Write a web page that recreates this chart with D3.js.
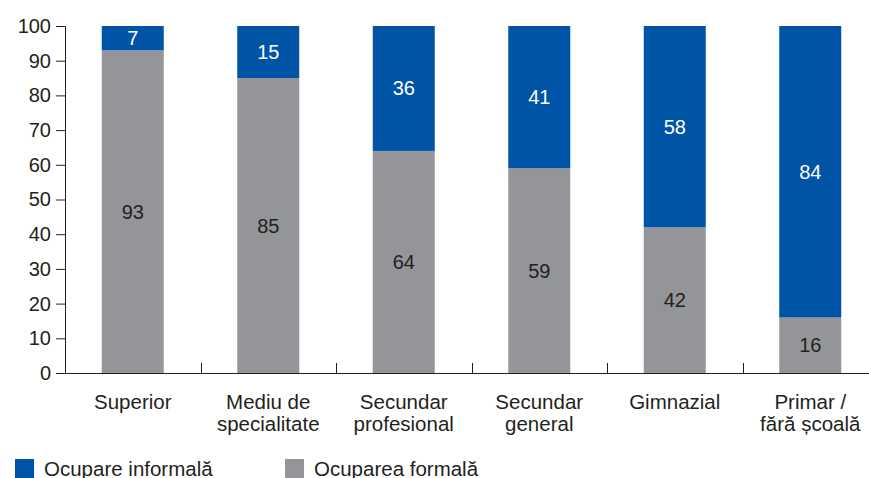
<!DOCTYPE html>
<html>
<head>
<meta charset="utf-8">
<script src="https://cdn.jsdelivr.net/npm/d3@7"></script>
<style>
  body { margin: 0; background: #fff; }
  text { font-family: "Liberation Sans", Arial, sans-serif; }
</style>
</head>
<body>
<svg id="chart"></svg>
<script>
// data
const categories = [["Superior"], ["Mediu de", "specialitate"], ["Secundar", "profesional"], ["Secundar", "general"], ["Gimnazial"], ["Primar /", "fără școală"]];
const formal = [93, 85, 64, 59, 42, 16];
const informal = [7, 15, 36, 41, 58, 84];
const yTicks = [0, 10, 20, 30, 40, 50, 60, 70, 80, 90, 100];
const seriesNames = ["Ocupare informală", "Ocuparea formală"];

const width = 869, height = 478;
const blue = "#0054a6", grey = "#939598", ink = "#231f20";

const svg = d3.select("#chart").attr("width", width).attr("height", height);

const x = d3.scaleBand().domain(d3.range(categories.length)).range([65, 878]);
const y = d3.scaleLinear().domain([0, 100]).range([373, 26]);
const barW = 62;

// y axis
const yAxis = d3.axisLeft(y).tickValues(yTicks).tickSize(9).tickPadding(5);
const gy = svg.append("g").attr("transform", "translate(65,0)").call(yAxis);
gy.select(".domain").attr("stroke", ink).attr("d", "M-9,26.5H0.5V373.5");
gy.selectAll(".tick line").attr("stroke", ink);
gy.selectAll(".tick text").attr("font-size", 20).attr("fill", ink);

// x axis line + category separators
svg.append("line").attr("x1", 65).attr("x2", width).attr("y1", 373.5).attr("y2", 373.5).attr("stroke", ink);
svg.selectAll(".sep").data(d3.range(1, categories.length)).join("line")
  .attr("x1", d => Math.round(x(d)) + 0.5).attr("x2", d => Math.round(x(d)) + 0.5)
  .attr("y1", 363).attr("y2", 373).attr("stroke", ink);

// bars
const g = svg.append("g");
categories.forEach((c, i) => {
  const cx = x(i) + x.bandwidth() / 2;
  g.append("rect").attr("x", cx - barW / 2).attr("width", barW)
    .attr("y", y(formal[i])).attr("height", y(0) - y(formal[i])).attr("fill", grey);
  g.append("rect").attr("x", cx - barW / 2).attr("width", barW)
    .attr("y", y(formal[i] + informal[i])).attr("height", y(formal[i]) - y(formal[i] + informal[i])).attr("fill", blue);
  g.append("text").attr("x", cx).attr("y", (y(0) + y(formal[i])) / 2).attr("dy", "0.35em")
    .attr("text-anchor", "middle").attr("font-size", 20).attr("fill", ink).text(formal[i]);
  g.append("text").attr("x", cx).attr("y", (y(formal[i]) + y(formal[i] + informal[i])) / 2).attr("dy", "0.35em")
    .attr("text-anchor", "middle").attr("font-size", 20).attr("fill", "#fff").text(informal[i]);
  const t = g.append("text").attr("text-anchor", "middle").attr("font-size", 20.5).attr("fill", ink);
  c.forEach((line, j) => {
    t.append("tspan").attr("x", cx).attr("y", 409 + j * 22).text(line);
  });
});

// legend
const legendX = [15, 285];
seriesNames.forEach((n, i) => {
  svg.append("rect").attr("x", legendX[i]).attr("y", 459).attr("width", 19).attr("height", 19)
    .attr("fill", i === 0 ? blue : grey);
  svg.append("text").attr("x", legendX[i] + 29).attr("y", 476).attr("font-size", 20.5).attr("fill", ink).text(n);
});
</script>
</body>
</html>
